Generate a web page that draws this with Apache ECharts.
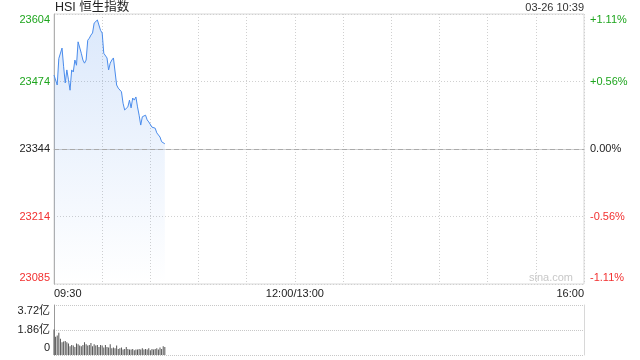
<!DOCTYPE html>
<html>
<head>
<meta charset="utf-8">
<script src="https://cdn.jsdelivr.net/npm/echarts@6/dist/echarts.min.js"></script>
<style>html,body{margin:0;padding:0;background:#fff;}#c{width:640px;height:360px;}</style>
</head>
<body>
<div id="c"></div>
<script>
// ---- data ----
var titleText = 'HSI 恒生指数';
var stampText = '03-26 10:39';
var prevClose = 23344;
var halfRange = 259.5;
var priceLabels = ['23085', '23214', '23344', '23474', '23604'];
var pctLabels = ['-1.11%', '-0.56%', '0.00%', '+0.56%', '+1.11%'];
var xTickLabels = ['09:30', '12:00/13:00', '16:00'];
var volLabels = ['0', '1.86亿', '3.72亿'];
var volMax = 3.72;
var prices = [23486, 23483, 23467, 23518, 23519, 23538, 23502, 23471, 23496, 23477,
  23457, 23496, 23492, 23515, 23505, 23550, 23552, 23528, 23515, 23509,
  23515, 23553, 23557, 23563, 23567, 23586, 23589, 23592, 23592, 23572,
  23567, 23528, 23525, 23519, 23496, 23509, 23515, 23519, 23519, 23467,
  23461, 23461, 23454, 23432, 23419, 23419, 23425, 23438, 23423, 23442,
  23438, 23444, 23425, 23409, 23390, 23406, 23404, 23409, 23400, 23396,
  23394, 23386, 23384, 23384, 23375, 23375, 23367, 23358, 23356, 23354];
var volumes = [1.90, 1.35, 1.45, 1.65, 1.20, 0.95, 1.00, 1.05, 0.95, 0.85,
  0.65, 0.75, 0.70, 0.60, 0.85, 0.80, 0.70, 0.65, 0.75, 0.95,
  0.80, 0.70, 0.75, 0.90, 0.65, 0.80, 0.70, 0.75, 0.60, 0.75,
  0.70, 0.55, 0.75, 0.60, 0.55, 0.80, 0.50, 0.55, 0.50, 0.70,
  0.45, 0.50, 0.55, 0.40, 0.45, 0.60, 0.45, 0.40, 0.40, 0.45,
  0.35, 0.40, 0.40, 0.45, 0.40, 0.50, 0.40, 0.45, 0.40, 0.50,
  0.35, 0.45, 0.40, 0.45, 0.50, 0.40, 0.55, 0.45, 0.65, 0.60];

// ---- build category axis (09:30-12:00, 13:00-16:00) ----
function pad(n){ return (n < 10 ? '0' : '') + n; }
var times = [];
for (var i = 0; i <= 330; i++) {
  var m = i <= 150 ? 9 * 60 + 30 + i : 13 * 60 + (i - 150);
  times.push(pad(Math.floor(m / 60)) + ':' + pad(m % 60));
}
var xLabelIdx = [0, 150, 330];
var changes = prices.map(function (p) { return p - prevClose; });

var FONT = 'Arial, "Liberation Sans", "Noto Sans CJK SC", sans-serif';
var GREEN = '#1ea51e', RED = '#f23030', BLACK = '#222';
var step = halfRange / 2;

function priceFmt(list) {
  return function (v) {
    var k = Math.round((v + halfRange) / step);
    var s = list[k];
    var st = k > 2 ? 'g' : (k < 2 ? 'r' : 'k');
    if (k === 4) st = 'gt';
    if (k === 0) st = 'rb';
    return '{' + st + '|' + s + '}';
  };
}
var richP = {
  g: {color: GREEN, fontSize: 11, fontFamily: FONT},
  gt: {color: GREEN, fontSize: 11, fontFamily: FONT, padding: [12, 0, 0, 0]},
  k: {color: BLACK, fontSize: 11, fontFamily: FONT},
  r: {color: RED, fontSize: 11, fontFamily: FONT},
  rb: {color: RED, fontSize: 11, fontFamily: FONT, padding: [0, 0, 12, 0]}
};
var richV = {
  k: {color: BLACK, fontSize: 11, fontFamily: FONT},
  kt: {color: BLACK, fontSize: 11, fontFamily: FONT, padding: [12, 0, 0, 0]},
  kb: {color: BLACK, fontSize: 11, fontFamily: FONT, padding: [0, 0, 14, 0]}
};

var chart = echarts.init(document.getElementById('c'), null, {renderer: 'canvas'});
chart.setOption({
  animation: false,
  backgroundColor: '#fff',
  textStyle: {fontFamily: FONT},
  title: [
    {text: titleText, left: 55, top: 1, padding: 0, textStyle: {fontSize: 12.5, fontWeight: 'normal', color: BLACK, fontFamily: FONT}},
    {text: stampText, right: 56, top: 2, padding: 0, textStyle: {fontSize: 11, fontWeight: 'normal', color: '#333', fontFamily: FONT}}
  ],
  graphic: [
    {type: 'text', right: 67, top: 272, style: {text: 'sina.com', fill: '#c8c8c8', font: '11px ' + FONT}}
  ],
  grid: [
    {left: 54, right: 56, top: 14, height: 270, show: true, borderColor: '#d8d8d8', borderWidth: 1},
    {left: 54, right: 56, top: 305, height: 50}
  ],
  xAxis: [
    {
      type: 'category', gridIndex: 0, data: times, boundaryGap: false,
      axisLine: {show: true, lineStyle: {color: '#d0d0d0'}},
      axisTick: {show: false},
      axisLabel: {
        interval: function (idx) { return xLabelIdx.indexOf(idx) >= 0; },
        formatter: function (v, idx) { return xTickLabels[xLabelIdx.indexOf(idx)]; },
        color: '#222', fontSize: 11, margin: 4, fontFamily: FONT,
        alignMinLabel: 'left', alignMaxLabel: 'right'
      },
      splitLine: {show: true, interval: function (idx) { return idx % 30 === 0; }, lineStyle: {color: '#d0d0d0', type: [1, 2]}}
    },
    {
      type: 'category', gridIndex: 1, data: times, boundaryGap: false,
      axisLine: {show: false}, axisTick: {show: false}, axisLabel: {show: false}, splitLine: {show: false}
    }
  ],
  yAxis: [
    {
      type: 'value', gridIndex: 0, min: -halfRange, max: halfRange, interval: step,
      axisLine: {show: true, lineStyle: {color: '#b0b0b0'}},
      axisTick: {show: false},
      axisLabel: {formatter: priceFmt(priceLabels), rich: richP, margin: 4},
      splitLine: {show: true, lineStyle: {color: '#d0d0d0', type: [1, 2]}}
    },
    {
      type: 'value', gridIndex: 0, position: 'right', min: -halfRange, max: halfRange, interval: step,
      axisLine: {show: false}, axisTick: {show: false}, splitLine: {show: false},
      axisLabel: {formatter: priceFmt(pctLabels), rich: richP, margin: 6}
    },
    {
      type: 'value', gridIndex: 1, min: 0, max: volMax, interval: volMax / 2,
      axisLine: {show: true, lineStyle: {color: '#999'}},
      axisTick: {show: false},
      axisLabel: {
        margin: 4,
        formatter: function (v) {
          var k = Math.round(v / (volMax / 2));
          var st = k === 2 ? 'kt' : (k === 0 ? 'kb' : 'k');
          return '{' + st + '|' + volLabels[k] + '}';
        },
        rich: richV
      },
      splitLine: {show: true, lineStyle: {color: '#c8c8c8', type: [1, 1]}}
    },
    {
      type: 'value', gridIndex: 1, position: 'right', min: 0, max: volMax, interval: volMax / 2,
      axisLine: {show: true, lineStyle: {color: '#d8d8d8'}},
      axisTick: {show: false}, axisLabel: {show: false}, splitLine: {show: false}
    }
  ],
  series: [
    {
      type: 'line', xAxisIndex: 0, yAxisIndex: 0, data: changes,
      symbol: 'none', smooth: false,
      lineStyle: {color: '#4a8cec', width: 1},
      areaStyle: {
        origin: 'start',
        color: new echarts.graphic.LinearGradient(0, 0, 0, 1, [
          {offset: 0, color: 'rgba(74,140,236,0.28)'},
          {offset: 1, color: 'rgba(74,140,236,0.0)'}
        ])
      },
      markLine: {
        silent: true, symbol: 'none', label: {show: false},
        lineStyle: {color: '#aaaaaa', type: [5, 3], width: 1},
        data: [{yAxis: 0}]
      }
    },
    {
      type: 'bar', xAxisIndex: 1, yAxisIndex: 2, data: volumes,
      barWidth: 1, itemStyle: {color: '#555'}
    }
  ]
});
</script>
</body>
</html>
